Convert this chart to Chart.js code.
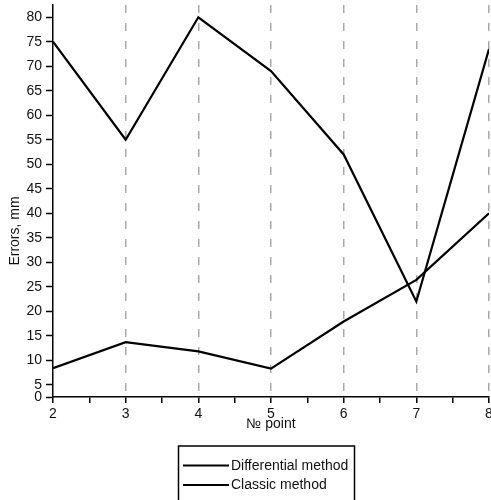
<!DOCTYPE html>
<html>
<head>
<meta charset="utf-8">
<title>Errors by point</title>
<script src="https://cdn.jsdelivr.net/npm/chart.js@4/dist/chart.umd.min.js"></script>
<style>
  html, body { margin: 0; padding: 0; background: #ffffff; }
  #chart { display: block; }
</style>
</head>
<body>
<canvas id="chart" width="491" height="500"></canvas>
<script>
// Point numbers along the horizontal axis
const pointNumbers = [2, 3, 4, 5, 6, 7, 8];

// Measurement errors, mm
const differentialErrors = [75, 55, 80, 69, 52, 22, 73.5];
const classicErrors = [8.4, 13.7, 11.8, 8.3, 17.9, 26.4, 40];

// Series names
const seriesNames = ['Differential method', 'Classic method'];

// Axis ticks and titles
const yTickValues = [5, 10, 15, 20, 25, 30, 35, 40, 45, 50, 55, 60, 65, 70, 75, 80];
const yBottomLabel = '0';
const yRange = [2.5, 82.5];
const xTickValues = [2, 2.5, 3, 3.5, 4, 4.5, 5, 5.5, 6, 6.5, 7, 7.5, 8];
const xTitle = '№ point';
const yTitle = 'Errors, mm';

const FONT = "'Liberation Sans', Arial, sans-serif";

function toPoints(values) {
  return values.map((v, i) => ({ x: pointNumbers[i], y: v }));
}

// Rotated y-axis title and boxed legend with line samples
const annotations = {
  id: 'annotations',
  afterDraw(chart) {
    const ctx = chart.ctx;
    ctx.save();
    // y-axis title
    ctx.translate(15, 231);
    ctx.rotate(-Math.PI / 2);
    ctx.font = '14px ' + FONT;
    ctx.fillStyle = '#111';
    ctx.textAlign = 'center';
    ctx.textBaseline = 'middle';
    ctx.fillText(yTitle, 0, 0);
    ctx.restore();

    // legend frame
    ctx.save();
    ctx.strokeStyle = '#000';
    ctx.lineWidth = 1.5;
    ctx.strokeRect(178.5, 446, 176, 70);
    ctx.font = '14px ' + FONT;
    ctx.fillStyle = '#111';
    ctx.textAlign = 'left';
    ctx.textBaseline = 'middle';
    chart.data.datasets.forEach((ds, i) => {
      const y = 465.5 + i * 19.5;
      ctx.strokeStyle = ds.borderColor;
      ctx.lineWidth = ds.borderWidth;
      ctx.beginPath();
      ctx.moveTo(183, y);
      ctx.lineTo(229, y);
      ctx.stroke();
      ctx.fillText(ds.label, 231, y + 0.5);
    });
    ctx.restore();
  }
};

new Chart(document.getElementById('chart'), {
  type: 'line',
  data: {
    datasets: [
      {
        label: seriesNames[0],
        data: toPoints(differentialErrors),
        borderColor: '#000000',
        borderWidth: 2.2,
        pointRadius: 0,
        tension: 0,
        fill: false
      },
      {
        label: seriesNames[1],
        data: toPoints(classicErrors),
        borderColor: '#000000',
        borderWidth: 2.2,
        pointRadius: 0,
        tension: 0,
        fill: false
      }
    ]
  },
  options: {
    responsive: false,
    animation: false,
    layout: { padding: { top: 5, left: 0, right: 2, bottom: 67 } },
    plugins: {
      legend: { display: false },
      tooltip: { enabled: false }
    },
    scales: {
      x: {
        type: 'linear',
        min: pointNumbers[0],
        max: pointNumbers[pointNumbers.length - 1],
        afterBuildTicks(scale) {
          scale.ticks = xTickValues.map(v => ({ value: v }));
        },
        afterFit(scale) {
          scale.height = 36;
          scale.paddingLeft = 0;
          scale.paddingRight = 0;
        },
        ticks: {
          autoSkip: false,
          maxRotation: 0,
          padding: 3,
          color: '#111',
          font: { family: FONT, size: 14 },
          callback: v => (Number.isInteger(v) ? String(v) : '')
        },
        grid: {
          color: c => (c.tick && Number.isInteger(c.tick.value) && c.tick.value > pointNumbers[0]
            ? '#a9a9a9' : 'rgba(0,0,0,0)'),
          lineWidth: 1.5,
          tickColor: '#000',
          tickLength: 6,
          tickWidth: 1.5
        },
        border: { display: true, color: '#000', width: 1.5, dash: [8, 10] },
        title: {
          display: true,
          text: xTitle,
          color: '#111',
          font: { family: FONT, size: 14 },
          padding: { top: 0, bottom: 0 }
        }
      },
      y: {
        type: 'linear',
        min: yRange[0],
        max: yRange[1],
        afterBuildTicks(scale) {
          scale.ticks = [yRange[0]].concat(yTickValues).map(v => ({ value: v }));
        },
        afterFit(scale) {
          scale.width = 53;
          scale.paddingTop = 0;
          scale.paddingBottom = 0;
        },
        ticks: {
          autoSkip: false,
          padding: 4,
          color: '#111',
          font: { family: FONT, size: 14 },
          callback: v => (v === yRange[0] ? yBottomLabel : String(v))
        },
        grid: {
          drawOnChartArea: false,
          tickColor: '#000',
          tickLength: 7,
          tickWidth: 1.5
        },
        border: { display: true, color: '#000', width: 1.5 }
      }
    }
  },
  plugins: [annotations]
});
</script>
</body>
</html>
